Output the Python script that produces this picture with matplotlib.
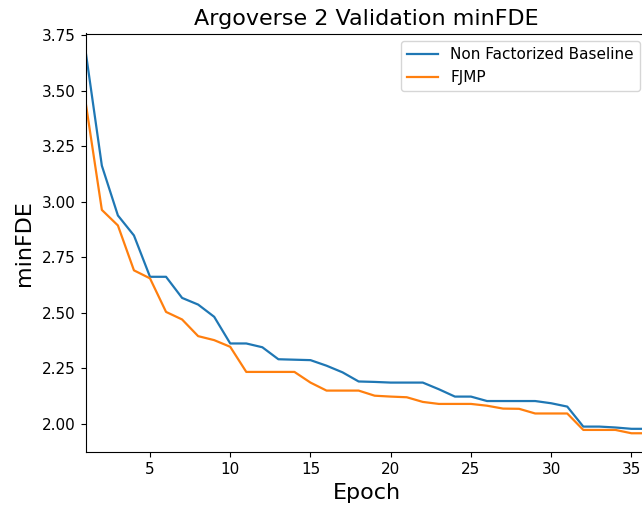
import numpy as np
import matplotlib
matplotlib.use('Agg')
import matplotlib.pyplot as plt

epochs = np.arange(1, 37)

baseline = [3.671, 3.162, 2.938, 2.848, 2.662, 2.662, 2.567, 2.537, 2.482, 2.362,
            2.362, 2.345, 2.291, 2.289, 2.287, 2.262, 2.232, 2.191, 2.189, 2.186,
            2.186, 2.186, 2.156, 2.123, 2.123, 2.103, 2.103, 2.103, 2.103, 2.093,
            2.078, 1.988, 1.988, 1.984, 1.978, 1.978]

fjmp = [3.442, 2.963, 2.893, 2.691, 2.655, 2.504, 2.470, 2.395, 2.377, 2.347,
        2.234, 2.234, 2.234, 2.234, 2.186, 2.150, 2.150, 2.150, 2.127, 2.123,
        2.120, 2.099, 2.090, 2.090, 2.090, 2.082, 2.069, 2.068, 2.047, 2.047,
        2.047, 1.973, 1.973, 1.973, 1.958, 1.958]

fig = plt.figure(figsize=(6.42, 5.08), dpi=100)
# axes run slightly past the right edge, like the cropped original
ax = fig.add_axes([85.8/642, 1 - 452.3/508, (647.5 - 85.8)/642, (452.3 - 33.5)/508])

ax.plot(epochs, baseline, label='Non Factorized Baseline', lw=1.6)
ax.plot(epochs, fjmp, label='FJMP', lw=1.6)

ax.set_xlim(1, 36)
ax.set_title('Argoverse 2 Validation minFDE', fontsize=16)
ax.set_xlabel('Epoch', fontsize=16)
ax.set_ylabel('minFDE', fontsize=16, labelpad=6)
ax.tick_params(axis='both', labelsize=11)
ax.legend(loc='upper right', fontsize=11)

fig.savefig('out.png', dpi=100)
